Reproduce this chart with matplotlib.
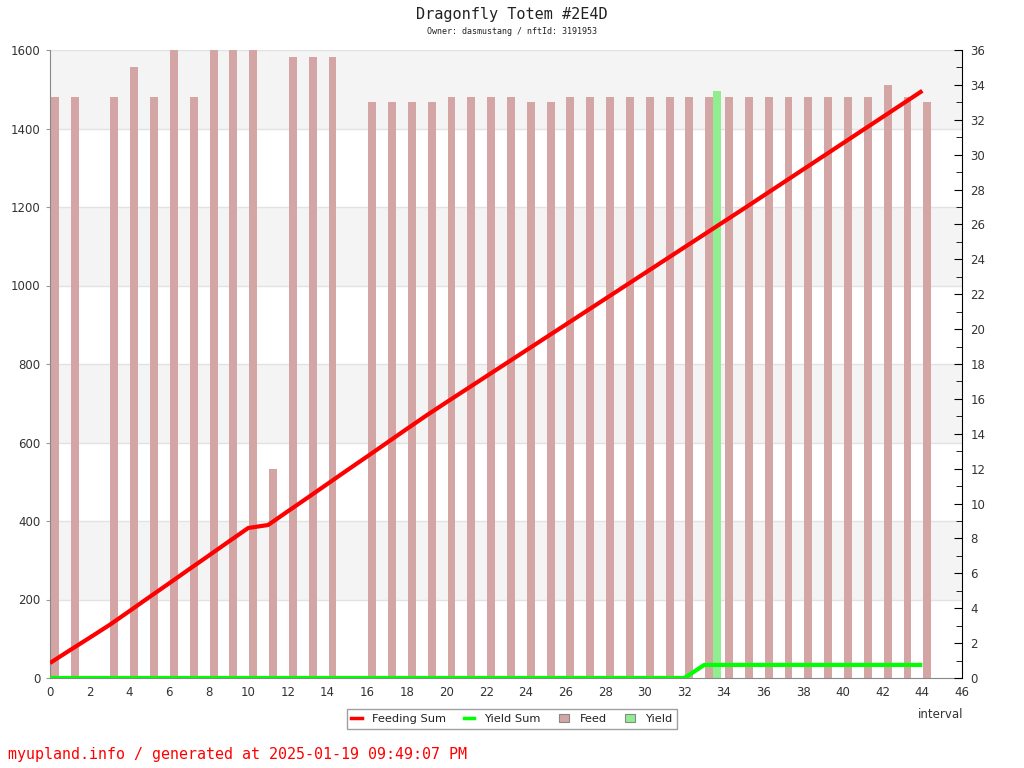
import matplotlib
matplotlib.use("Agg")
import matplotlib.pyplot as plt
from matplotlib.lines import Line2D
from matplotlib.patches import Patch
from matplotlib.ticker import MultipleLocator

title = "Dragonfly Totem #2E4D"
subtitle = "Owner: dasmustang / nftId: 3191953"
footer = "myupland.info / generated at 2025-01-19 09:49:07 PM"

intervals = list(range(45))
feed = [1480, 1480, 0, 1480, 1557, 1480, 1600, 1480, 1600, 1600,
        1600, 532, 1582, 1582, 1582, 0, 1467, 1467, 1467, 1467,
        1480, 1480, 1480, 1480, 1467, 1467, 1480, 1480, 1480, 1480,
        1480, 1480, 1480, 1480, 1480, 1480, 1480, 1480, 1480, 1480,
        1480, 1480, 1511, 1480, 1467]
yield_x = [33]
yield_vals = [1495]
feeding_sum = [0.86, 1.59, 2.31, 3.04, 3.83, 4.63, 5.42, 6.22, 7.01, 7.81,
               8.60, 8.77, 9.56, 10.34, 11.13, 11.92, 12.70, 13.49, 14.28, 15.06,
               15.81, 16.55, 17.29, 18.03, 18.77, 19.51, 20.25, 20.99, 21.73, 22.47,
               23.21, 23.95, 24.69, 25.43, 26.17, 26.91, 27.66, 28.41, 29.16, 29.91,
               30.66, 31.41, 32.16, 32.91, 33.66]
yield_sum = [0] * 33 + [0.75] * 12

bar_color = "#d4a5a5"
yield_color = "#90ee90"
txt = "#333333"

fig = plt.figure(figsize=(10.24, 7.68), dpi=100)
ax = fig.add_axes([50/1024, 90/768, 912/1024, 628/768])
ax2 = ax.twinx()

ax.set_xlim(0, 46)
ax.set_ylim(0, 1600)
ax2.set_ylim(0, 36)

for k, y0 in enumerate(range(0, 1600, 200)):
    if k % 2 == 1:
        ax.axhspan(y0, y0 + 200, color="#f4f4f4", zorder=0, lw=0)
for y0 in range(200, 1601, 200):
    ax.axhline(y0, color="#e2e2e2", lw=1, zorder=0.5)

ax.bar([x + 0.05 for x in intervals], feed, width=0.4, align="edge",
       color=bar_color, zorder=2)
ax.bar([x + 0.45 for x in yield_x], yield_vals, width=0.4, align="edge",
       color=yield_color, zorder=2)

ax2.plot(intervals, feeding_sum, color="red", lw=3.0, zorder=5, solid_capstyle="butt")
ax2.plot(intervals, yield_sum, color="#00ff00", lw=3.0, zorder=4, solid_capstyle="butt")

ax.xaxis.set_major_locator(MultipleLocator(2))
ax.yaxis.set_major_locator(MultipleLocator(200))
ax2.yaxis.set_major_locator(MultipleLocator(2))
ax2.yaxis.set_minor_locator(MultipleLocator(1))

ax.tick_params(axis="x", length=0, pad=6, labelsize=8.5, labelcolor=txt)
ax.tick_params(axis="y", length=3, color="#999999", labelsize=8.5, labelcolor=txt, pad=4)
ax2.tick_params(axis="y", which="major", direction="in", length=6, color="black",
                labelsize=8.5, labelcolor=txt, pad=6)
ax2.tick_params(axis="y", which="minor", direction="in", length=4, color="black")

for a in (ax, ax2):
    a.spines["top"].set_visible(False)
ax.spines["left"].set_color("#888888")
ax.spines["bottom"].set_color("#888888")
ax.spines["right"].set_visible(False)
ax2.spines["left"].set_visible(False)
ax2.spines["bottom"].set_visible(False)
ax2.spines["right"].set_color("black")
ax2.set_zorder(ax.get_zorder() + 1)
ax2.patch.set_visible(False)
ax.set_axisbelow(True)

fig.text(512/1024, 1 - 14/768, title, ha="center", va="center",
         fontsize=11, family="DejaVu Sans Mono", color="#222222")
fig.text(512/1024, 1 - 31/768, subtitle, ha="center", va="center",
         fontsize=6, family="DejaVu Sans Mono", color="#222222")
fig.text(8/1024, 1 - 754/768, footer, ha="left", va="center",
         fontsize=10.8, family="DejaVu Sans Mono", color="red")
fig.text(963/1024, 1 - 714/768, "interval", ha="right", va="center",
         fontsize=8.5, color=txt)

handles = [Line2D([], [], color="red", lw=2.5),
           Line2D([], [], color="#00ff00", lw=2.5),
           Patch(facecolor=bar_color, edgecolor="#888888", lw=0.8),
           Patch(facecolor=yield_color, edgecolor="#888888", lw=0.8)]
labels = ["Feeding Sum", "Yield Sum", "Feed", "Yield"]
leg = fig.legend(handles, labels, loc="center", bbox_to_anchor=(512/1024, 1 - 719/768),
                 ncol=4, fontsize=8.2, frameon=True, fancybox=False,
                 edgecolor="#888888", handlelength=0.9, handleheight=0.7,
                 columnspacing=1.6, handletextpad=0.9, borderpad=0.4)
leg.get_frame().set_linewidth(1)
for t in leg.get_texts():
    t.set_color("#222222")

fig.savefig("out.png", dpi=100)
